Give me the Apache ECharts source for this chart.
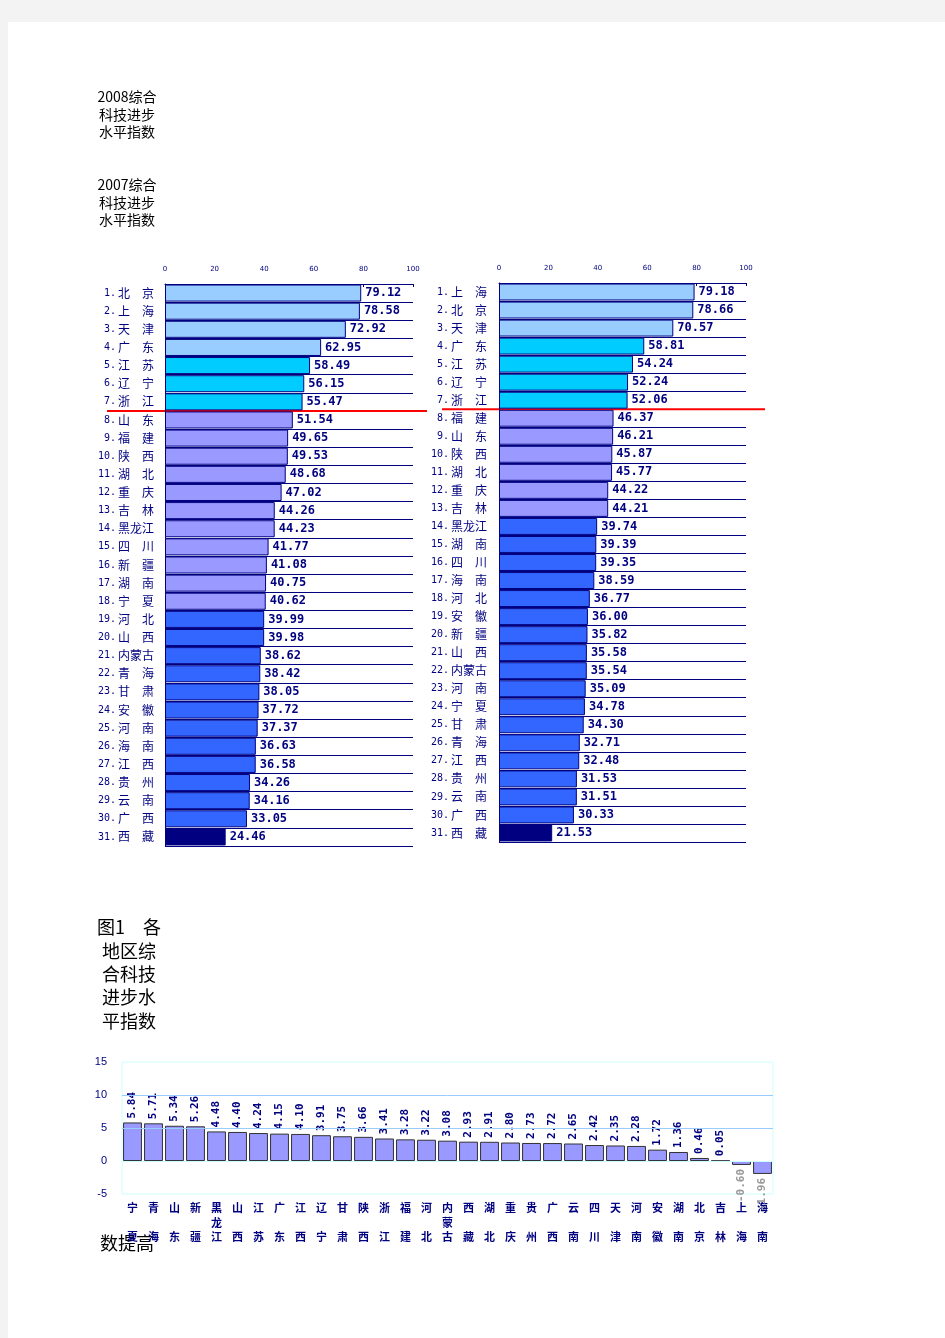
<!DOCTYPE html>
<html><head><meta charset="utf-8">
<script src="https://cdn.jsdelivr.net/npm/echarts@6/dist/echarts.min.js"></script>
<style>
html,body{margin:0;padding:0;background:#f3f3f3;}
#page{position:absolute;left:8px;top:22px;width:937px;height:1316px;background:#fff;}
#chart{position:absolute;left:0;top:0;width:945px;height:1338px;}
</style></head><body>
<div id="page"></div>
<div id="chart"></div>
<script>
// 2008 ranking (left chart)
const names2008 = ['北京','上海','天津','广东','江苏','辽宁','浙江','山东','福建','陕西','湖北','重庆','吉林','黑龙江','四川','新疆','湖南','宁夏','河北','山西','内蒙古','青海','甘肃','安徽','河南','海南','江西','贵州','云南','广西','西藏'];
const values2008 = [79.12,78.58,72.92,62.95,58.49,56.15,55.47,51.54,49.65,49.53,48.68,47.02,44.26,44.23,41.77,41.08,40.75,40.62,39.99,39.98,38.62,38.42,38.05,37.72,37.37,36.63,36.58,34.26,34.16,33.05,24.46];
// 2007 ranking (right chart)
const names2007 = ['上海','北京','天津','广东','江苏','辽宁','浙江','福建','山东','陕西','湖北','重庆','吉林','黑龙江','湖南','四川','海南','河北','安徽','新疆','山西','内蒙古','河南','宁夏','甘肃','青海','江西','贵州','云南','广西','西藏'];
const values2007 = [79.18,78.66,70.57,58.81,54.24,52.24,52.06,46.37,46.21,45.87,45.77,44.22,44.21,39.74,39.39,39.35,38.59,36.77,36.00,35.82,35.58,35.54,35.09,34.78,34.30,32.71,32.48,31.53,31.51,30.33,21.53];
// increase (bottom chart)
const diffNames = ['宁夏','青海','山东','新疆','黑龙江','山西','江苏','广东','江西','辽宁','甘肃','陕西','浙江','福建','河北','内蒙古','西藏','湖北','重庆','贵州','广西','云南','四川','天津','河南','安徽','湖南','北京','吉林','上海','海南'];
const diffValues = [5.84,5.71,5.34,5.26,4.48,4.40,4.24,4.15,4.10,3.91,3.75,3.66,3.41,3.28,3.22,3.08,2.93,2.91,2.80,2.73,2.72,2.65,2.42,2.35,2.28,1.72,1.36,0.46,0.05,-0.60,-1.96];
// rank group ends (inclusive) for colouring
const groupEnds2008 = [4,7,18,30,31];
const groupEnds2007 = [3,7,13,30,31];
const groupColors = ['#99CCFF','#00CCFF','#9999FF','#3366FF','#000080'];

const NAVY = '#000080';
const CJK = '"Noto Sans CJK SC", sans-serif';

function colorFor(rank, ends){
  for (let g = 0; g < ends.length; g++) if (rank <= ends[g]) return groupColors[g];
  return groupColors[groupColors.length-1];
}
function rowLabel(name, i){
  const c = name.length === 2 ? name[0] + '　' + name[1] : name;
  return '{n|' + (i+1) + '.}{c|' + c + '}';
}
function topAxis(gi){
  return {
    type:'value', gridIndex:gi, position:'top', min:0, max:100, interval:20,
    axisLine:{show:true, lineStyle:{color:NAVY, width:1}},
    axisTick:{show:true, inside:true, length:3, lineStyle:{color:NAVY}},
    axisLabel:{fontSize:7, color:NAVY, margin:11, fontFamily:'DejaVu Sans'},
    splitLine:{show:false}
  };
}
function catAxis(gi, names, margin){
  return {
    type:'category', gridIndex:gi, data:names, inverse:true,
    axisLine:{show:true, lineStyle:{color:NAVY, width:1}},
    axisTick:{show:false},
    splitLine:{show:true, lineStyle:{color:NAVY, width:1}},
    axisLabel:{
      interval:0, margin:margin, formatter:(v, i) => rowLabel(v, i),
      rich:{
        n:{fontFamily:'DejaVu Sans Mono', fontSize:10, color:NAVY, padding:[0,2,0,0]},
        c:{fontFamily:CJK, fontSize:12, color:NAVY}
      }
    }
  };
}
function rankSeries(gi, values, ends){
  return {
    type:'bar', xAxisIndex:gi, yAxisIndex:gi, barCategoryGap:'6%',
    data: values.map((v, i) => ({value:v, itemStyle:{color:colorFor(i+1, ends)}})),
    itemStyle:{borderColor:NAVY, borderWidth:1},
    label:{show:true, position:'right', distance:4, color:NAVY, fontWeight:'bold',
      fontFamily:'DejaVu Sans Mono', fontSize:12, formatter:p => p.value.toFixed(2)}
  };
}

const chart = echarts.init(document.getElementById('chart'), null, {renderer:'canvas'});
chart.setOption({
  animation:false,
  backgroundColor:'transparent',
  grid:[
    {left:165, top:284, width:248, height:562},
    {left:499, top:283, width:247, height:559},
    {left:122, top:1062, width:651, height:132, show:true, borderColor:'#CCFFFF', borderWidth:1, backgroundColor:'transparent'}
  ],
  xAxis:[
    topAxis(0), topAxis(1),
    {type:'category', gridIndex:2, data:diffNames,
      axisLine:{show:false, onZero:false}, axisTick:{show:false},
      axisLabel:{interval:0, margin:7, color:NAVY, fontSize:11, fontWeight:'bold', fontFamily:CJK, lineHeight:14.5,
        formatter:v => v.length === 2 ? v[0] + '\n\n' + v[1] : v.split('').join('\n')}}
  ],
  yAxis:[
    catAxis(0, names2008, 11),
    catAxis(1, names2007, 12),
    {type:'value', gridIndex:2, min:-5, max:15, interval:5,
      axisLine:{show:false}, axisTick:{show:false}, splitLine:{show:false},
      axisLabel:{color:NAVY, fontSize:11, margin:15, fontFamily:'Liberation Sans'}}
  ],
  series:[
    rankSeries(0, values2008, groupEnds2008),
    rankSeries(1, values2007, groupEnds2007),
    {type:'bar', xAxisIndex:2, yAxisIndex:2, barCategoryGap:'10%',
      data: diffValues.map(v => v < 0
        ? {value:v, label:{position:'bottom', align:'right', color:'#999999'}}
        : {value:v}),
      itemStyle:{color:'#9999FF', borderColor:'#333333', borderWidth:1},
      label:{show:true, position:'top', rotate:90, align:'left', verticalAlign:'middle', distance:4,
        color:NAVY, fontWeight:'bold', fontFamily:'DejaVu Sans Mono', fontSize:11,
        formatter:p => p.value.toFixed(2)},
      markLine:{silent:true, symbol:['none','none'], label:{show:false},
        lineStyle:{color:'#99CCFF', type:'solid', width:1},
        data:[{yAxis:10},{yAxis:5},{yAxis:0, lineStyle:{color:'#CCFFFF', type:'solid', width:1}}]}
    }
  ]
});

// annotations
const yL = (chart.convertToPixel({yAxisIndex:0}, 6) + chart.convertToPixel({yAxisIndex:0}, 7)) / 2;
const yR = (chart.convertToPixel({yAxisIndex:1}, 6) + chart.convertToPixel({yAxisIndex:1}, 7)) / 2;
function txt(text, x, y, size, lh, align){
  return {type:'text', x:x, y:y, silent:true,
    style:{text:text, font:size + 'px ' + CJK, fill:'#000', lineHeight:lh,
      textAlign:align || 'center', align:align || 'center', textVerticalAlign:'top', verticalAlign:'top'}};
}
chart.setOption({
  graphic:[
    txt('2008综合\n科技进步\n水平指数', 127, 88, 14, 17.5),
    txt('2007综合\n科技进步\n水平指数', 127, 176, 14, 17.5),
    txt('图1　各\n地区综\n合科技\n进步水\n平指数', 129, 916, 18, 23.3),
    txt('数提高', 100, 1232, 18, 22, 'left'),
    {type:'line', silent:true, shape:{x1:107, y1:yL, x2:427, y2:yL}, style:{stroke:'#FF0000', lineWidth:2}},
    {type:'line', silent:true, shape:{x1:442, y1:yR, x2:765, y2:yR}, style:{stroke:'#FF0000', lineWidth:2}}
  ]
});
</script>
</body></html>
